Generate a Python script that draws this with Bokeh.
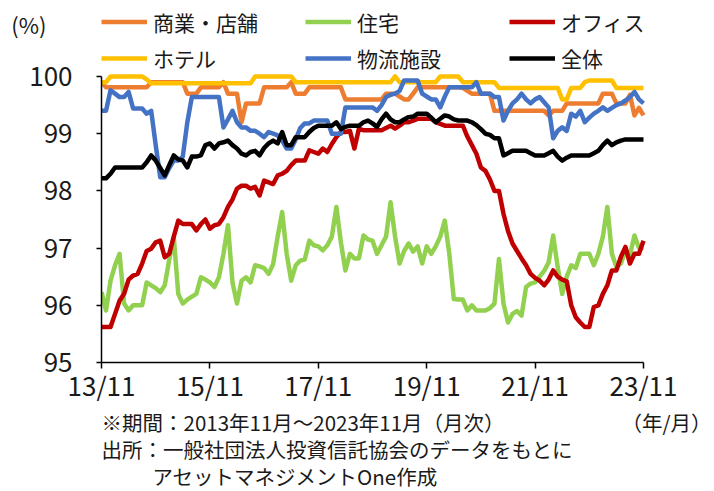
from bokeh.plotting import figure
from bokeh.models import Range1d, FixedTicker, Legend, LegendItem, Label
from bokeh.layouts import column
from bokeh.embed import file_html
from bokeh.resources import INLINE

# ---- data (monthly, 2013/11 .. 2023/11) ----
months = list(range(121))
tick_positions = [0, 24, 48, 72, 96, 120]
tick_labels = ["13/11", "15/11", "17/11", "19/11", "21/11", "23/11"]
y_ticks = [95, 96, 97, 98, 99, 100]
series_names = ["商業・店舗", "住宅", "オフィス", "ホテル", "物流施設", "全体"]

commercial = ([99.9] + [99.81]*10 + [99.9]*8 + [99.7]*3 + [99.81]*5 + [99.9] + [99.7]*3 + [99.2]
              + [99.53]*4 + [99.81]*6 + [99.9] + [99.7]*3 + [99.81]*8 + [99.6]*9 + [99.7]*3 + [99.65]
              + [99.6]*2 + [99.7] + [99.81]*10 + [99.8, 99.75] + [99.7]*5 + [99.4]*12 + [99.32]
              + [99.4]*3 + [99.53]*8 + [99.7]*3 + [99.53]*3 + [99.68, 99.32, 99.45, 99.32])

residential = [96.23, 95.91, 96.43, 96.7, 96.9, 96.03, 95.91, 96.0, 96.0, 96.0,
               96.4, 96.35, 96.3, 96.23, 96.35, 96.8, 97.19, 96.2, 96.03, 96.1,
               96.15, 96.2, 96.49, 96.45, 96.4, 96.32, 96.49, 96.9, 97.4, 96.4,
               96.03, 96.43, 96.49, 96.4, 96.7, 96.68, 96.65, 96.55, 96.72, 97.2,
               97.63, 96.9, 96.43, 96.7, 96.78, 96.8, 97.13, 97.05, 97.03, 96.96,
               97.05, 97.2, 97.72, 97.1, 96.61, 96.9, 96.82, 96.82, 97.22, 97.15,
               97.13, 96.9, 97.05, 97.2, 97.8, 97.2, 96.73, 96.95, 97.08, 96.94,
               97.03, 96.73, 97.03, 96.9, 97.03, 97.2, 97.48, 96.9, 96.11, 96.1,
               96.1, 95.91, 96.0, 95.91, 95.91, 95.91, 95.95, 96.03, 96.81, 96.03,
               95.7, 95.85, 95.9, 95.82, 96.32, 96.38, 96.4, 96.5, 96.6, 96.75,
               97.22, 96.67, 96.2, 96.5, 96.7, 96.65, 96.9, 96.9, 96.9, 96.7,
               96.9, 97.2, 97.72, 96.9, 96.67, 96.73, 96.96, 96.88, 97.22, 97.0,
               97.0]

office = [95.62, 95.62, 95.62, 95.85, 96.08, 96.2, 96.45, 96.52, 96.55, 96.73,
          96.95, 96.99, 97.1, 97.13, 96.84, 96.9, 97.2, 97.48, 97.42, 97.42,
          97.42, 97.31, 97.42, 97.5, 97.34, 97.4, 97.42, 97.54, 97.72, 97.85,
          98.04, 98.09, 98.09, 98.04, 98.07, 97.92, 98.18, 98.15, 98.12, 98.27,
          98.3, 98.35, 98.45, 98.53, 98.53, 98.53, 98.71, 98.68, 98.65, 98.74,
          98.68, 98.82, 98.94, 99.03, 99.03, 99.05, 98.74, 99.09, 99.06, 99.06,
          99.06, 99.06, 99.06, 99.1, 99.14, 99.09, 99.14, 99.2, 99.2, 99.23,
          99.26, 99.26, 99.26, 99.26, 99.2, 99.17, 99.14, 99.14, 99.14, 99.14,
          99.14, 98.95, 98.8, 98.65, 98.41, 98.35, 98.2, 98.0, 98.0, 97.6,
          97.3, 97.08, 96.95, 96.82, 96.7, 96.55, 96.48, 96.43, 96.35, 96.45,
          96.61, 96.5, 96.45, 96.42, 96.0, 95.79, 95.7, 95.62, 95.62, 95.97,
          96.0, 96.2, 96.35, 96.61, 96.61, 96.85, 97.02, 96.73, 96.9, 96.9,
          97.13]

hotel = ([99.9]*2 + [100.0]*8 + [99.95] + [99.88]*23 + [100.0]*9 + [99.9]*22 + [100.0]
         + [99.9]*9 + [100.0]*5 + [99.9]*8 + [99.8]*14 + [99.6]*2 + [99.8]*3 + [99.9]
         + [99.93]*6 + [99.8]*7)

logistics = [99.4, 99.4, 99.76, 99.7, 99.64, 99.64, 99.73, 99.44, 99.44, 99.44,
             99.35, 99.4, 98.8, 98.24, 98.24, 98.4, 98.53, 98.53, 98.6, 99.2,
             99.64, 99.64, 99.64, 99.64, 99.64, 99.64, 99.64, 99.11, 99.25, 99.4,
             99.2, 99.11, 99.11, 99.05, 99.05, 99.0, 98.94, 99.03, 99.0, 98.97,
             98.88, 98.74, 98.74, 98.9, 99.1, 99.18, 99.18, 99.23, 99.23, 99.23,
             99.23, 99.0, 99.0, 99.0, 99.46, 99.46, 99.46, 99.46, 99.46, 99.46,
             99.46, 99.4, 99.5, 99.64, 99.68, 99.7, 99.75, 99.93, 99.93, 99.93,
             99.93, 99.7, 99.65, 99.6, 99.6, 99.46, 99.65, 99.81, 99.81, 99.81,
             99.81, 99.81, 99.81, 99.9, 99.7, 99.7, 99.7, 99.64, 99.64, 99.23,
             99.4, 99.53, 99.6, 99.7, 99.6, 99.53, 99.6, 99.64, 99.55, 99.46,
             98.92, 99.05, 99.11, 99.05, 99.35, 99.3, 99.4, 99.2, 99.28, 99.35,
             99.4, 99.46, 99.4, 99.45, 99.5, 99.53, 99.58, 99.64, 99.73, 99.6,
             99.53]

overall = [98.22, 98.22, 98.3, 98.41, 98.41, 98.41, 98.41, 98.41, 98.41, 98.41,
           98.5, 98.62, 98.53, 98.4, 98.27, 98.45, 98.62, 98.55, 98.53, 98.41,
           98.6, 98.6, 98.62, 98.8, 98.83, 98.74, 98.83, 98.85, 98.88, 98.8,
           98.74, 98.65, 98.62, 98.68, 98.7, 98.62, 98.75, 98.83, 98.88, 98.83,
           99.03, 98.8, 98.8, 98.94, 98.94, 98.94, 99.03, 99.1, 99.14, 99.14,
           99.14, 99.14, 99.2, 99.08, 99.12, 99.14, 99.14, 99.14, 99.2, 99.23,
           99.18, 99.12, 99.25, 99.35, 99.25, 99.2, 99.2, 99.25, 99.29, 99.3,
           99.35, 99.35, 99.35, 99.28, 99.2, 99.26, 99.32, 99.3, 99.25, 99.23,
           99.23, 99.23, 99.2, 99.15, 99.08, 99.0, 98.98, 98.92, 98.92, 98.62,
           98.66, 98.7, 98.7, 98.7, 98.7, 98.66, 98.62, 98.62, 98.62, 98.66,
           98.7, 98.6, 98.53, 98.58, 98.62, 98.62, 98.62, 98.62, 98.62, 98.66,
           98.7, 98.8, 98.88, 98.8, 98.85, 98.88, 98.9, 98.9, 98.9, 98.9,
           98.9]

colors = ["#ED7D31", "#92D050", "#C00000", "#FFC000", "#4472C4", "#000000"]
all_series = [commercial, residential, office, hotel, logistics, overall]

FONT = "Noto Sans CJK JP"
TXT = "#1a1a1a"
LW = 4.5

def strip_fig(h, y_axis=None):
    f = figure(width=714, height=h, output_backend="svg", toolbar_location=None,
               x_axis_location=None, y_axis_location=y_axis,
               x_range=Range1d(0, 1), y_range=Range1d(0, h),
               min_border_left=0, min_border_right=0, min_border_top=0, min_border_bottom=0)
    f.outline_line_color = None
    f.xgrid.grid_line_color = None
    f.ygrid.grid_line_color = None
    return f

def add_label(f, x, y, t, size="20.5px", align="left"):
    f.add_layout(Label(x=x, y=y, x_units="screen", y_units="screen", text=t,
                       text_font=FONT, text_font_size=size, text_color=TXT,
                       text_baseline="middle", text_align=align))

def legend_style(h):
    return dict(orientation="horizontal", ncols=3, padding=0, margin=0, spacing=0,
                border_line_color=None, background_fill_alpha=0,
                glyph_width=46, glyph_height=h, label_height=h, label_width=152,
                label_standoff=6, label_text_font=FONT, label_text_font_size="21px",
                label_text_color=TXT)

# ---- top strip: unit label + first legend row ----
TOP_H = 44
top = strip_fig(TOP_H, y_axis="left")
ya = top.yaxis[0]
ya.ticker = FixedTicker(ticks=[11])
ya.major_label_overrides = {11: "(%)"}
ya.axis_line_color = None
ya.major_tick_line_color = None
ya.minor_tick_line_color = None
ya.major_tick_out = 0
ya.major_tick_in = 0
ya.major_label_standoff = 55
ya.major_label_text_font = FONT
ya.major_label_text_font_size = "22px"
ya.major_label_text_color = TXT
# legend glyph sources: the series themselves, lying outside this strip's range
proxies = [top.line(months, ys, line_color=c, line_width=LW) for ys, c in zip(all_series[:3], colors[:3])]
top.add_layout(Legend(items=[LegendItem(label=n, renderers=[r]) for n, r in zip(series_names[:3], proxies)],
                      location=(0, 4.8), **legend_style(35)))

# ---- main chart ----
p = figure(width=714, height=364, output_backend="svg", toolbar_location=None,
           x_range=Range1d(0, 135.72), y_range=Range1d(95, 100.5594),
           min_border_left=101, min_border_right=0, min_border_top=0, min_border_bottom=46)
p.outline_line_color = None
p.xgrid.grid_line_color = None
p.ygrid.grid_line_color = None

renderers = []
for ys, c in zip(all_series, colors):
    renderers.append(p.line(months, ys, line_color=c, line_width=LW, line_join="round"))

for ax in (p.xaxis[0], p.yaxis[0]):
    ax.axis_line_color = "black"
    ax.axis_line_width = 1.5
    ax.major_tick_line_color = "black"
    ax.major_tick_line_width = 1.5
    ax.major_tick_in = 0
    ax.minor_tick_line_color = None
    ax.major_label_text_font = FONT
    ax.major_label_text_font_size = "26px"
    ax.major_label_text_color = TXT

p.xaxis[0].ticker = FixedTicker(ticks=tick_positions)
p.xaxis[0].major_label_overrides = {t: l for t, l in zip(tick_positions, tick_labels)}
p.xaxis[0].bounds = (0, 120)
p.xaxis[0].major_tick_out = 6
p.xaxis[0].major_label_standoff = -3
p.yaxis[0].ticker = FixedTicker(ticks=y_ticks)
p.yaxis[0].bounds = (95, 100)
p.yaxis[0].major_tick_out = 5
p.yaxis[0].major_label_standoff = 24

p.add_layout(Legend(items=[LegendItem(label=n, renderers=[r]) for n, r in zip(series_names[3:], renderers[3:])],
                    location=(0, 289), **legend_style(22)))

# ---- bottom strip: notes ----
bottom = strip_fig(83)
add_label(bottom, 0, 70, "※期間：2013年11月～2023年11月（月次）")
add_label(bottom, 610, 70, "（年/月）", align="right")
add_label(bottom, 0, 43, "出所：一般社団法人投資信託協会のデータをもとに")
add_label(bottom, 51, 16, "アセットマネジメントOne作成")

layout = column(top, p, bottom, spacing=0)
open("out.html", "w").write(file_html(layout, INLINE))
